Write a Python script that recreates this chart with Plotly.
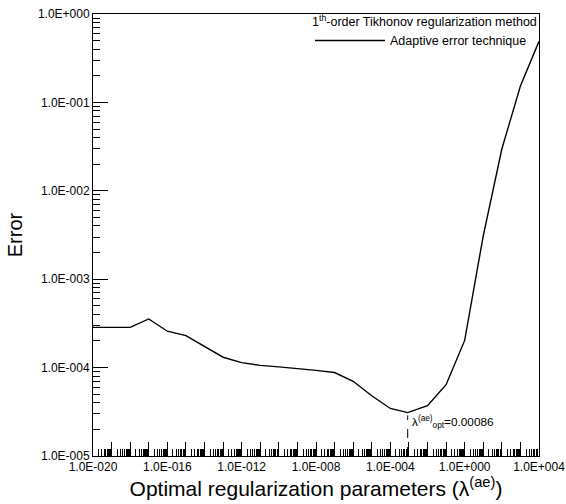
import plotly.graph_objects as go

# ---- data ----
lam_exp = [-20, -19, -18, -17, -16, -15, -14, -13, -12, -11, -10, -9, -8, -7,
           -6, -5, -4, -3.066, -2, -1, 0, 1, 2, 3, 4]
error = [2.85e-4, 2.85e-4, 2.85e-4, 3.55e-4, 2.58e-4, 2.3e-4, 1.74e-4, 1.31e-4,
         1.14e-4, 1.06e-4, 1.02e-4, 9.8e-5, 9.3e-5, 8.8e-5,
         7.0e-5, 4.8e-5, 3.45e-5, 3.1e-5, 3.7e-5, 6.4e-5, 2.03e-4, 3.1e-3,
         2.97e-2, 1.53e-1, 4.9e-1]
lam = [10 ** e for e in lam_exp]

lam_opt = 0.00086
err_opt = 3.1e-5

x_major_exp = list(range(-20, 5))
x_label_exp = list(range(-20, 5, 4))
y_major_exp = list(range(-5, 1))


def sci(e):
    return "1.0E%s%03d" % ("+" if e >= 0 else "-", abs(e))


x_tickvals = [10 ** e for e in x_major_exp]
x_ticktext = [sci(e) if e in x_label_exp else "" for e in x_major_exp]
x_minor = [m * 10 ** e for e in x_major_exp[:-1] for m in range(2, 10)]
y_tickvals = [10 ** e for e in y_major_exp]
y_ticktext = [sci(e) for e in y_major_exp]
y_minor = [m * 10 ** e for e in y_major_exp[:-1] for m in range(2, 10)]

FONT = "Liberation Sans, Arial, sans-serif"

fig = go.Figure()
fig.add_trace(go.Scatter(
    x=lam, y=error, mode="lines",
    line=dict(color="black", width=1.4),
    name="Adaptive error technique",
))

fig.add_shape(type="line", xref="x", yref="y",
              x0=lam_opt, x1=lam_opt, y0=1e-5, y1=err_opt * 0.93,
              line=dict(color="black", width=1, dash="dash"))
fig.add_annotation(x=-3.066 + 0.12, y=-4.62, xref="x", yref="y",
                   text="λ<sup>(ae)</sup><sub>opt</sub>=0.00086",
                   showarrow=False, xanchor="left", yanchor="middle",
                   font=dict(size=11.8, color="black", family=FONT))

axis_common = dict(
    type="log", showgrid=False, zeroline=False, automargin=False,
    showline=True, linecolor="black", linewidth=1, mirror=True,
    ticks="inside", tickcolor="black", tickwidth=1, tickangle=0,
    tickfont=dict(size=12, color="black", family=FONT),
)

fig.update_xaxes(
    **axis_common,
    range=[-20, 4], tickmode="array", tickvals=x_tickvals, ticktext=x_ticktext,
    ticklen=14,
    minor=dict(tickmode="array", tickvals=x_minor, ticks="inside", ticklen=7,
               tickcolor="black", tickwidth=1, showgrid=False),
    title=dict(text="Optimal regularization parameters (λ<sup>(ae)</sup>)",
               font=dict(size=21, color="black", family=FONT), standoff=4),
)
fig.update_yaxes(
    **axis_common,
    range=[-5, 0], tickmode="array", tickvals=y_tickvals, ticktext=y_ticktext,
    ticklen=15,
    minor=dict(tickmode="array", tickvals=y_minor, ticks="inside", ticklen=7,
               tickcolor="black", tickwidth=1, showgrid=False),
    title=dict(text="Error", font=dict(size=20, color="black", family=FONT),
               standoff=9),
)

fig.update_layout(
    width=566, height=504,
    margin=dict(l=93, r=27, t=10, b=48),
    paper_bgcolor="white", plot_bgcolor="white",
    font=dict(family=FONT, color="black"),
    showlegend=True,
    legend=dict(
        x=1.0, y=1.01, xanchor="right", yanchor="top",
        bgcolor="rgba(0,0,0,0)",
        title=dict(text="1<sup>th</sup>-order Tikhonov regularization method",
                   font=dict(size=12.5, color="black", family=FONT)),
        font=dict(size=12.5, color="black", family=FONT),
        itemwidth=70,
        tracegroupgap=0,
    ),
)

fig.write_html("out.html")
